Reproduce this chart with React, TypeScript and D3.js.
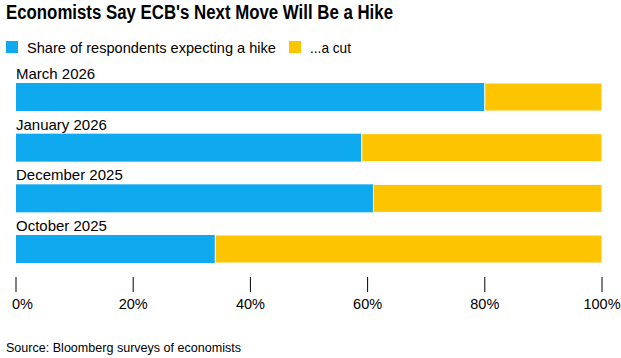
import * as d3 from "d3"
import { useRef, useEffect } from "react"

// survey dates, top to bottom
const categories = ["March 2026", "January 2026", "December 2025", "October 2025"]
// share expecting a hike / a cut
const hikeShare = [0.8, 0.59, 0.61, 0.34]
const cutShare = [0.2, 0.41, 0.39, 0.66]
const seriesNames = ["Share of respondents expecting a hike", "...a cut"]
const tickValues = [0, 0.2, 0.4, 0.6, 0.8, 1]

const title = "Economists Say ECB's Next Move Will Be a Hike"
const source = "Source: Bloomberg surveys of economists"

const BLUE = "#0fa9ef"
const YELLOW = "#fdc400"
const FONT = "'Liberation Sans', Arial, Helvetica, sans-serif"

const App = () => {
  const svgRef = useRef<SVGSVGElement>(null)
  const width = 621
  const height = 358
  const left = 16
  const right = 602

  useEffect(() => {
    const svg = d3.select(svgRef.current)
    svg.selectAll("*").remove()

    const x = d3.scaleLinear().domain([0, 1]).range([left, right])
    const y = d3
      .scaleBand()
      .domain(categories)
      .range([83, 263])
      .paddingInner(0.4474)
      .paddingOuter(0)

    // title
    svg
      .append("text")
      .attr("x", 6)
      .attr("y", 19)
      .attr("font-family", FONT)
      .attr("font-weight", "bold")
      .attr("font-size", 19.5)
      .attr("textLength", 387)
      .attr("lengthAdjust", "spacingAndGlyphs")
      .attr("fill", "#000")
      .text(title)

    // legend
    const legendX = [6, 289]
    const legendLen = [249, 41]
    const legendColors = [BLUE, YELLOW]
    seriesNames.forEach((name, i) => {
      svg
        .append("rect")
        .attr("x", legendX[i])
        .attr("y", 41)
        .attr("width", 12)
        .attr("height", 12)
        .attr("fill", legendColors[i])
      svg
        .append("text")
        .attr("x", legendX[i] + 21)
        .attr("y", 53)
        .attr("font-family", FONT)
        .attr("font-size", 14.5)
        .attr("textLength", legendLen[i])
        .attr("lengthAdjust", "spacingAndGlyphs")
        .attr("fill", "#000")
        .text(name)
    })

    // rows
    const rows = categories.map((c, i) => ({ c, hike: hikeShare[i], cut: cutShare[i] }))
    const g = svg.append("g")

    g.selectAll("text.cat")
      .data(rows)
      .join("text")
      .attr("class", "cat")
      .attr("x", left)
      .attr("y", (d) => y(d.c)! - 4)
      .attr("font-family", FONT)
      .attr("font-size", 15)
      .attr("fill", "#000")
      .text((d) => d.c)

    g.selectAll("rect.hike")
      .data(rows)
      .join("rect")
      .attr("class", "hike")
      .attr("x", x(0))
      .attr("y", (d) => y(d.c)!)
      .attr("width", (d) => x(d.hike) - x(0))
      .attr("height", y.bandwidth())
      .attr("fill", BLUE)

    g.selectAll("rect.cut")
      .data(rows)
      .join("rect")
      .attr("class", "cut")
      .attr("x", (d) => x(d.hike))
      .attr("y", (d) => y(d.c)!)
      .attr("width", (d) => x(d.hike + d.cut) - x(d.hike))
      .attr("height", y.bandwidth())
      .attr("fill", YELLOW)
      .attr("stroke", "#fff")
      .attr("stroke-width", 1)

    // x axis
    const axis = svg.append("g")
    axis
      .selectAll("line")
      .data(tickValues)
      .join("line")
      .attr("x1", (d) => x(d))
      .attr("x2", (d) => x(d))
      .attr("y1", 277)
      .attr("y2", 292)
      .attr("stroke", "#000")
      .attr("stroke-width", 1)
    axis
      .selectAll("text")
      .data(tickValues)
      .join("text")
      .attr("x", (d) => (d === 0 ? x(d) - 4 : x(d)))
      .attr("y", 309)
      .attr("text-anchor", (d) => (d === 0 ? "start" : "middle"))
      .attr("font-family", FONT)
      .attr("font-size", 14.5)
      .attr("fill", "#000")
      .text((d) => d3.format(".0%")(d))

    // source
    svg
      .append("text")
      .attr("x", 6)
      .attr("y", 352)
      .attr("font-family", FONT)
      .attr("font-size", 13)
      .attr("textLength", 235)
      .attr("lengthAdjust", "spacingAndGlyphs")
      .attr("fill", "#000")
      .text(source)
  }, [])

  return (
    <div style={{ position: "absolute", left: 0, top: 0 }}>
      <svg ref={svgRef} width={width} height={height} style={{ display: "block", background: "#fff" }}></svg>
    </div>
  )
}

export default App
